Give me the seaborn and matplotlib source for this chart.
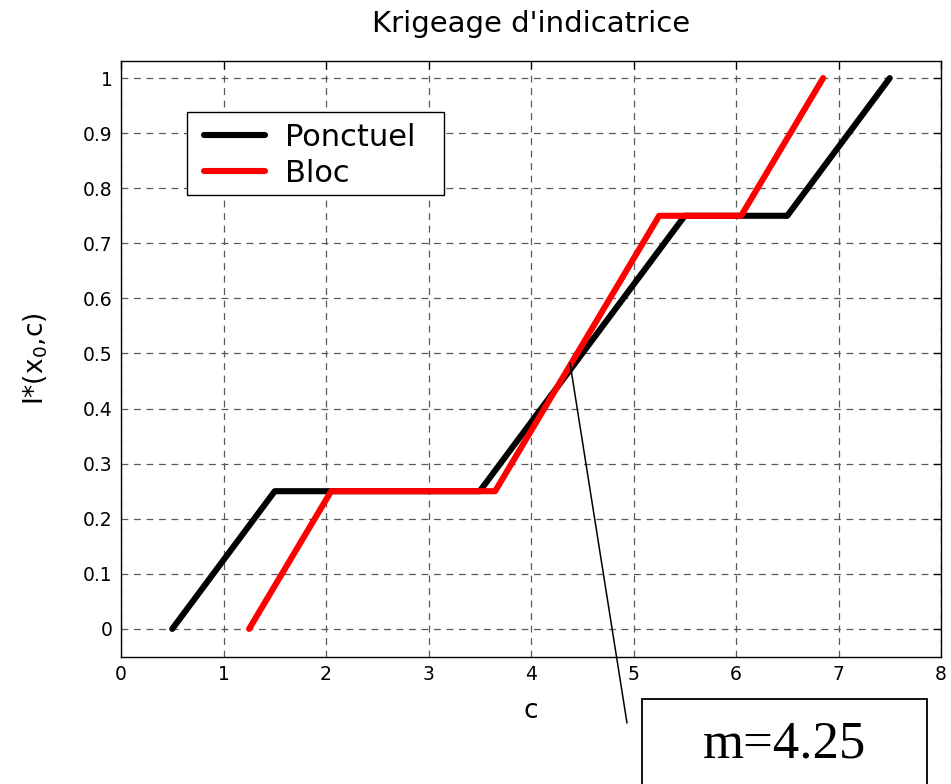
import matplotlib
matplotlib.use("Agg")
import matplotlib.pyplot as plt
import seaborn as sns
import pandas as pd
from matplotlib.patches import Rectangle
from matplotlib.lines import Line2D

# Indicator kriging estimates I*(x0, c) as a function of the threshold c
c_ponctuel = [0.5, 1.5, 3.5, 5.5, 6.5, 7.5]
i_ponctuel = [0.0, 0.25, 0.25, 0.75, 0.75, 1.0]
c_bloc = [1.25, 2.05, 3.65, 5.25, 6.05, 6.85]
i_bloc = [0.0, 0.25, 0.25, 0.75, 0.75, 1.0]
series_names = ["Ponctuel", "Bloc"]
series_colors = ["black", "red"]
x_ticks = [0, 1, 2, 3, 4, 5, 6, 7, 8]
y_ticks = [0, 0.1, 0.2, 0.3, 0.4, 0.5, 0.6, 0.7, 0.8, 0.9, 1]
y_tick_labels = ["0", "0.1", "0.2", "0.3", "0.4", "0.5", "0.6", "0.7", "0.8", "0.9", "1"]
median_label = "m=4.25"

df = pd.concat([
    pd.DataFrame({"c": c_ponctuel, "I": i_ponctuel, "type": series_names[0]}),
    pd.DataFrame({"c": c_bloc, "I": i_bloc, "type": series_names[1]}),
], ignore_index=True)

sns.set_style("white")
plt.rcParams["font.family"] = ["DejaVu Sans"]
plt.rcParams["text.color"] = "black"
plt.rcParams["axes.labelcolor"] = "black"

W, H = 951, 784
fig = plt.figure(figsize=(W / 100, H / 100), dpi=100)
ax = fig.add_axes([121 / W, 1 - 657 / H, (941 - 121) / W, (657 - 61) / H])

sns.lineplot(data=df, x="c", y="I", hue="type", hue_order=series_names,
             palette=dict(zip(series_names, series_colors)), sort=False,
             estimator=None, linewidth=4.4, ax=ax, legend=False,
             solid_capstyle="round", zorder=3)

ax.set_xlim(0, 8)
ax.set_ylim(-0.051, 1.031)
ax.set_xticks(x_ticks)
ax.set_yticks(y_ticks)
ax.set_yticklabels(y_tick_labels)
ax.grid(True, color="#5a5a5a", linestyle=(0, (5.5, 4.5)), linewidth=0.9)
ax.tick_params(direction="in", length=6, width=0.9, top=True, right=True,
               labelsize=13.5, pad=6, colors="black")
for s in ax.spines.values():
    s.set_visible(True)
    s.set_color("black")
    s.set_linewidth(1.0)

ax.set_title("Krigeage d'indicatrice", fontsize=21, pad=21, color="black")
ax.set_xlabel("c", fontsize=19, labelpad=10)
ax.set_ylabel("I*(x$_0$,c)", fontsize=19, labelpad=24)

# Legend entries, with a square black frame around them
handles = [Line2D([0], [0], color=col, linewidth=4.4, solid_capstyle="round")
           for col in series_colors]
leg = ax.legend(handles, series_names, loc="upper left",
                bbox_to_anchor=((195 - 121) / 820, (657 - 114) / 596),
                borderaxespad=0, fontsize=22, frameon=False, handlelength=2.0,
                handletextpad=0.65, labelspacing=0.22, borderpad=0.3)
for t in leg.get_texts():
    t.set_color("black")
ax.add_patch(Rectangle((187 / W, 1 - 195 / H), (444 - 187) / W, (195 - 112) / H,
                       transform=fig.transFigure, facecolor="white",
                       edgecolor="black", linewidth=1.0, zorder=4))
leg.set_zorder(5)

# Pointer from the curves' crossing to the median box
fig.add_artist(Line2D([570 / W, 627 / W], [1 - 363 / H, 1 - 723 / H],
                      transform=fig.transFigure, color="black", linewidth=1.1))
fig.add_artist(Rectangle((642 / W, 1 - 800 / H), (927 - 642) / W, (800 - 699) / H,
                         transform=fig.transFigure, facecolor="white",
                         edgecolor="black", linewidth=1.3))
fig.text(784 / W, 1 - 745 / H, median_label, ha="center", va="center",
         fontsize=38, color="black", family=["Liberation Serif", "DejaVu Serif"])

fig.savefig("out.png", dpi=100)
